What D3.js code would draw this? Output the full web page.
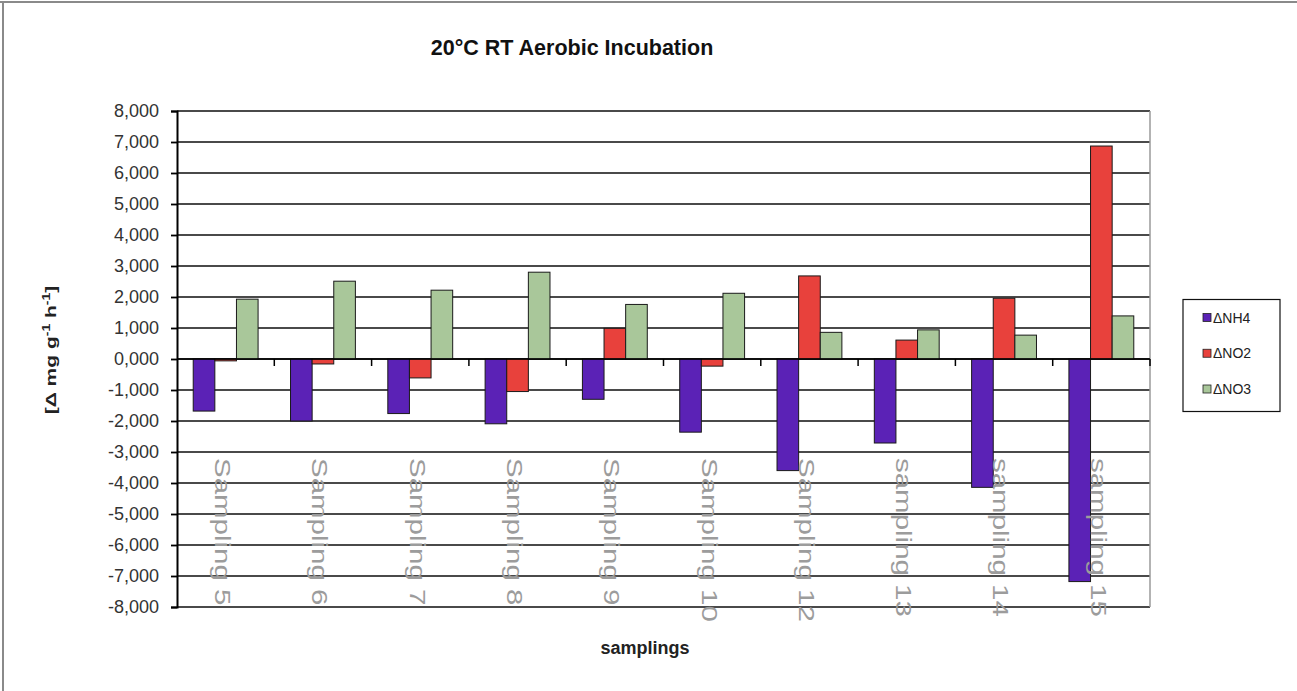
<!DOCTYPE html>
<html>
<head>
<meta charset="utf-8">
<script src="https://cdn.jsdelivr.net/npm/d3@7/dist/d3.min.js"></script>
<style>
  html, body { margin: 0; padding: 0; background: #fff; }
  svg { display: block; font-family: "Liberation Sans", Arial, sans-serif; }
</style>
</head>
<body>
<svg id="chart" width="1297" height="691"></svg>
<script>
// ---- data ----
const categories = ["Sampling 5", "Sampling 6", "Sampling 7", "Sampling 8", "Sampling 9",
                    "Sampling 10", "Sampling 12", "sampling 13", "sampling 14", "sampling 15"];
const seriesNames = ["\u0394NH4", "\u0394NO2", "\u0394NO3"];
const nh4 = [-1.68, -2.00, -1.76, -2.09, -1.30, -2.36, -3.60, -2.71, -4.14, -7.18];
const no2 = [-0.06, -0.16, -0.61, -1.05, 0.99, -0.23, 2.68, 0.61, 1.96, 6.87];
const no3 = [1.93, 2.51, 2.22, 2.80, 1.76, 2.12, 0.86, 0.94, 0.77, 1.39];
const yTicks = [-8, -7, -6, -5, -4, -3, -2, -1, 0, 1, 2, 3, 4, 5, 6, 7, 8];
const yTickLabels = ["-8,000", "-7,000", "-6,000", "-5,000", "-4,000", "-3,000", "-2,000", "-1,000",
                     "0,000", "1,000", "2,000", "3,000", "4,000", "5,000", "6,000", "7,000", "8,000"];
const colors = ["#5b22b6", "#e8413c", "#a9c79a"];
const seriesValues = [nh4, no2, no3];

// ---- layout ----
const svg = d3.select("#chart");
const plot = { left: 177, right: 1150, top: 111, bottom: 607 };

const y = d3.scaleLinear().domain([-8, 8]).range([plot.bottom, plot.top]);
const x0 = d3.scaleBand().domain(categories).range([plot.left, plot.right])
  .paddingInner(1 / 3).paddingOuter(1 / 6);
const x1 = d3.scaleBand().domain(seriesNames).range([0, x0.bandwidth()]);
const step = x0.step();

// outer frame (top & left)
svg.append("line").attr("x1", 0).attr("x2", 1297).attr("y1", 2).attr("y2", 2)
  .attr("stroke", "#8a8a8a").attr("stroke-width", 2);
svg.append("line").attr("x1", 3).attr("x2", 3).attr("y1", 2).attr("y2", 691)
  .attr("stroke", "#8a8a8a").attr("stroke-width", 2);

// gridlines
svg.append("g").selectAll("line").data(yTicks).join("line")
  .attr("x1", plot.left).attr("x2", plot.right)
  .attr("y1", d => y(d)).attr("y2", d => y(d))
  .attr("stroke", d => d === 0 ? "#000" : "#4a4a4a")
  .attr("stroke-width", d => d === 0 ? 1.6 : 1.8);

// right border of plot area
svg.append("line").attr("x1", plot.right).attr("x2", plot.right)
  .attr("y1", plot.top).attr("y2", plot.bottom)
  .attr("stroke", "#9a9a9a").attr("stroke-width", 1.5);

// bars
const groups = svg.append("g").selectAll("g").data(categories).join("g")
  .attr("transform", d => `translate(${x0(d)},0)`);
groups.selectAll("rect")
  .data((c, ci) => seriesNames.map((s, si) => ({ s, si, v: seriesValues[si][ci] })))
  .join("rect")
  .attr("x", d => x1(d.s))
  .attr("width", x1.bandwidth())
  .attr("y", d => y(Math.max(0, d.v)))
  .attr("height", d => Math.abs(y(d.v) - y(0)))
  .attr("fill", d => colors[d.si])
  .attr("stroke", "#1a1a1a").attr("stroke-width", 1);

// zero line on top
svg.append("line").attr("x1", plot.left).attr("x2", plot.right)
  .attr("y1", y(0)).attr("y2", y(0)).attr("stroke", "#000").attr("stroke-width", 1.6);

// category tick marks on zero line
svg.append("g").selectAll("line").data(d3.range(1, categories.length + 1)).join("line")
  .attr("x1", i => plot.left + i * step).attr("x2", i => plot.left + i * step)
  .attr("y1", y(0)).attr("y2", y(0) + 7)
  .attr("stroke", "#000").attr("stroke-width", 1.5);

// y axis
const yAxis = d3.axisLeft(y).tickValues(yTicks)
  .tickFormat((d, i) => yTickLabels[i]).tickSize(6).tickPadding(12);
const gy = svg.append("g").attr("transform", `translate(${plot.left},0)`).call(yAxis);
gy.select(".domain").attr("stroke", "#000").attr("stroke-width", 2);
gy.selectAll(".tick line").attr("stroke", "#000").attr("stroke-width", 1.8);
gy.selectAll(".tick text").attr("font-size", 18).attr("fill", "#333")
  .attr("font-family", "'Liberation Sans', Arial, sans-serif");

// category labels (rotated)
svg.append("g").selectAll("text").data(categories).join("text")
  .attr("transform", d => `translate(${x0(d) + x0.bandwidth() / 2 - 3},458) rotate(90) scale(1.34,1)`)
  .attr("text-anchor", "start")
  .attr("dominant-baseline", "central")
  .attr("font-size", 22)
  .attr("fill", "#9c9c9c")
  .text(d => d);

// title
svg.append("text").attr("x", 572).attr("y", 55).attr("text-anchor", "middle")
  .attr("font-size", 21.5).attr("font-weight", "bold").attr("fill", "#111")
  .text("20\u00B0C RT Aerobic Incubation");

// x axis title
svg.append("text").attr("x", 645).attr("y", 654).attr("text-anchor", "middle")
  .attr("font-size", 18).attr("font-weight", "bold").attr("fill", "#222")
  .text("samplings");

// y axis title
const yt = svg.append("text")
  .attr("transform", "translate(56,350) rotate(-90) scale(1.4,1)")
  .attr("text-anchor", "middle").attr("font-size", 15).attr("font-weight", "bold").attr("fill", "#222");
yt.append("tspan").text("[\u0394 mg g");
yt.append("tspan").attr("font-size", 10).attr("dy", -6).text("-1");
yt.append("tspan").attr("dy", 6).text(" h");
yt.append("tspan").attr("font-size", 10).attr("dy", -6).text("-1");
yt.append("tspan").attr("dy", 6).text("]");

// legend
const legend = svg.append("g");
legend.append("rect").attr("x", 1183).attr("y", 299.5).attr("width", 97).attr("height", 112)
  .attr("fill", "#fff").attr("stroke", "#111").attr("stroke-width", 1.2);
const legY = d3.scalePoint().domain(seriesNames).range([317.5, 389]);
const li = legend.selectAll("g.item").data(seriesNames).join("g").attr("class", "item");
li.append("rect").attr("x", 1203).attr("y", d => legY(d) - 4).attr("width", 8).attr("height", 8)
  .attr("fill", (d, i) => colors[i]).attr("stroke", "#222").attr("stroke-width", 0.8);
li.append("text").attr("x", 1213).attr("y", d => legY(d)).attr("dominant-baseline", "central")
  .attr("font-size", 14).attr("fill", "#222").text(d => d);
</script>
</body>
</html>
